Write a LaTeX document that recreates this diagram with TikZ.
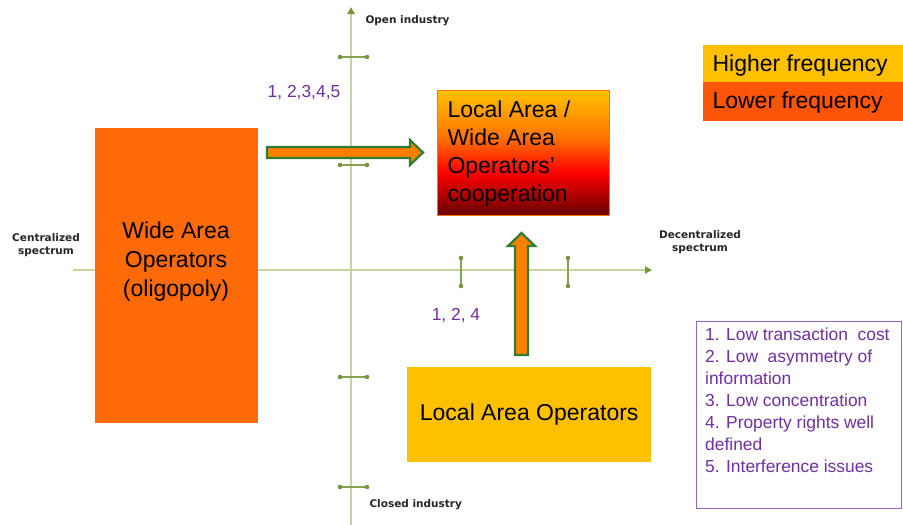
\documentclass[tikz,border=0pt]{standalone}
\usepackage{fontspec}
\setmainfont{Liberation Sans}
\newfontfamily\axisfont{DejaVu Sans}
\usetikzlibrary{arrows.meta}
\definecolor{axisgreen}{HTML}{C4D79B}
\definecolor{tickgreen}{HTML}{77933C}
\definecolor{widebox}{HTML}{FF6A08}
\definecolor{lowbox}{HTML}{FC5508}
\definecolor{goldbox}{HTML}{FFC000}
\definecolor{arrowfill}{HTML}{FF7F00}
\definecolor{arrowedge}{HTML}{2E7D32}
\definecolor{numpurple}{HTML}{7030A0}
\definecolor{boxpurple}{HTML}{9966CC}
\pgfdeclareverticalshading{coopshade}{100bp}{rgb(0bp)=(0.40,0,0); rgb(25bp)=(0.40,0,0); rgb(42bp)=(1,0,0); rgb(56bp)=(1,0.45,0); rgb(75bp)=(1,0.76,0); rgb(100bp)=(1,0.76,0)}
\tikzset{
  axisline/.style={draw=axisgreen, line width=1.8pt, -{Triangle[length=7pt,width=7pt,color=tickgreen]}},
  tickline/.style={draw=tickgreen!80!axisgreen, line width=1.3pt},
  tickdot/.style={fill=tickgreen},
  axislabel/.style={font=\axisfont\bfseries\fontsize{10.5}{13}\selectfont, align=center, text=black!85},
  bigbox/.style={rectangle, anchor=north west, inner sep=0pt},
  bigtext/.style={font=\fontsize{23}{28}\selectfont, align=center},
  numlabel/.style={font=\fontsize{17.4}{22}\selectfont, text=numpurple},
  blockarrow/.style={fill=arrowfill, draw=arrowedge, line width=2.2pt, line join=miter},
}
\begin{document}
\begin{tikzpicture}[x=1pt,y=-1pt]
\useasboundingbox[fill=white] (0,0) rectangle (903,525);
% axes
\coordinate (vbot) at (351,525);
\coordinate (vtop) at (351,7);
\coordinate (hleft) at (73,270);
\coordinate (hright) at (652,270);
\draw[axisline] (vbot) -- (vtop);
\draw[axisline] (hleft) -- (hright);
% ticks
\foreach \yy/\nm in {57/a,165/b,377/c,487/d}{
  \coordinate (t\nm1) at (340,\yy);
  \coordinate (t\nm2) at (367,\yy);
  \draw[tickline] (t\nm1) -- (t\nm2);
  \fill[tickdot] (t\nm1) circle (2.3pt) (t\nm2) circle (2.3pt);
}
\foreach \xx/\nm in {461/e,568/f}{
  \coordinate (t\nm1) at (\xx,258);
  \coordinate (t\nm2) at (\xx,286);
  \draw[tickline] (t\nm1) -- (t\nm2);
  \fill[tickdot] (t\nm1) circle (2.3pt) (t\nm2) circle (2.3pt);
}
% axis labels
\node[axislabel, anchor=west] (open) at (362,21) {Open industry};
\node[axislabel, anchor=west] (closed) at (366,505) {Closed industry};
\node[axislabel] (central) at (46,245.5) {Centralized\\spectrum};
\node[axislabel] (decentral) at (700,242.5) {Decentralized\\spectrum};
% wide area box
\node[bigbox, fill=widebox, minimum width=163pt, minimum height=295pt] (wide) at (95,128) {};
\node[bigtext, font=\fontsize{23}{29}\selectfont] (widetxt) at (176,262) {Wide Area\\Operators\\(oligopoly)};
% cooperation box
\node[bigbox, minimum width=172pt, minimum height=125pt] (coop) at (437,90) {};
\shade[shading=coopshade] (coop.north west) rectangle (coop.south east);
\draw[draw=orange!90!red, line width=0.6pt] (coop.north west) rectangle (coop.south east);
\node[bigtext, align=left, anchor=west] (cooptxt) at (444,154) {Local Area /\\Wide Area\\Operators’\\cooperation};
% local area box
\node[bigbox, fill=goldbox, minimum width=244pt, minimum height=95pt] (local) at (407,367) {};
\node[bigtext] (localtxt) at (local.center) {Local Area Operators};
% legend
\node[bigbox, fill=goldbox, minimum width=200pt, minimum height=37pt] (hi) at (703,45) {};
\node[bigbox, fill=lowbox, minimum width=200pt, minimum height=39pt] (lo) at (703,82) {};
\node[bigtext, anchor=west] (hitxt) at (709,66) {Higher frequency};
\node[bigtext, anchor=west] (lotxt) at (709,103) {Lower frequency};
% block arrows
\draw[blockarrow] (267,147) -- (410,147) -- (410,140) -- (423,152.5) -- (410,165) -- (410,158) -- (267,158) -- cycle;
\draw[blockarrow] (515,355) -- (515,246) -- (508,246) -- (521.5,233) -- (535,246) -- (528,246) -- (528,355) -- cycle;
% number labels
\node[numlabel] (lab1) at (304,93) {1, 2,3,4,5};
\node[numlabel] (lab2) at (456,316) {1, 2, 4};
% criteria box
\node[bigbox, draw=boxpurple, line width=1.2pt, minimum width=205pt, minimum height=187pt] (crit) at (696,321) {};
\node[numlabel, anchor=north west, align=left, inner sep=0pt] (crittxt) at (705,328) {1. Low transaction\ \ cost\\2. Low\ \ asymmetry of\\information\\3. Low concentration\\4. Property rights\ well\\defined\\5. Interference issues};
\end{tikzpicture}
\end{document}
